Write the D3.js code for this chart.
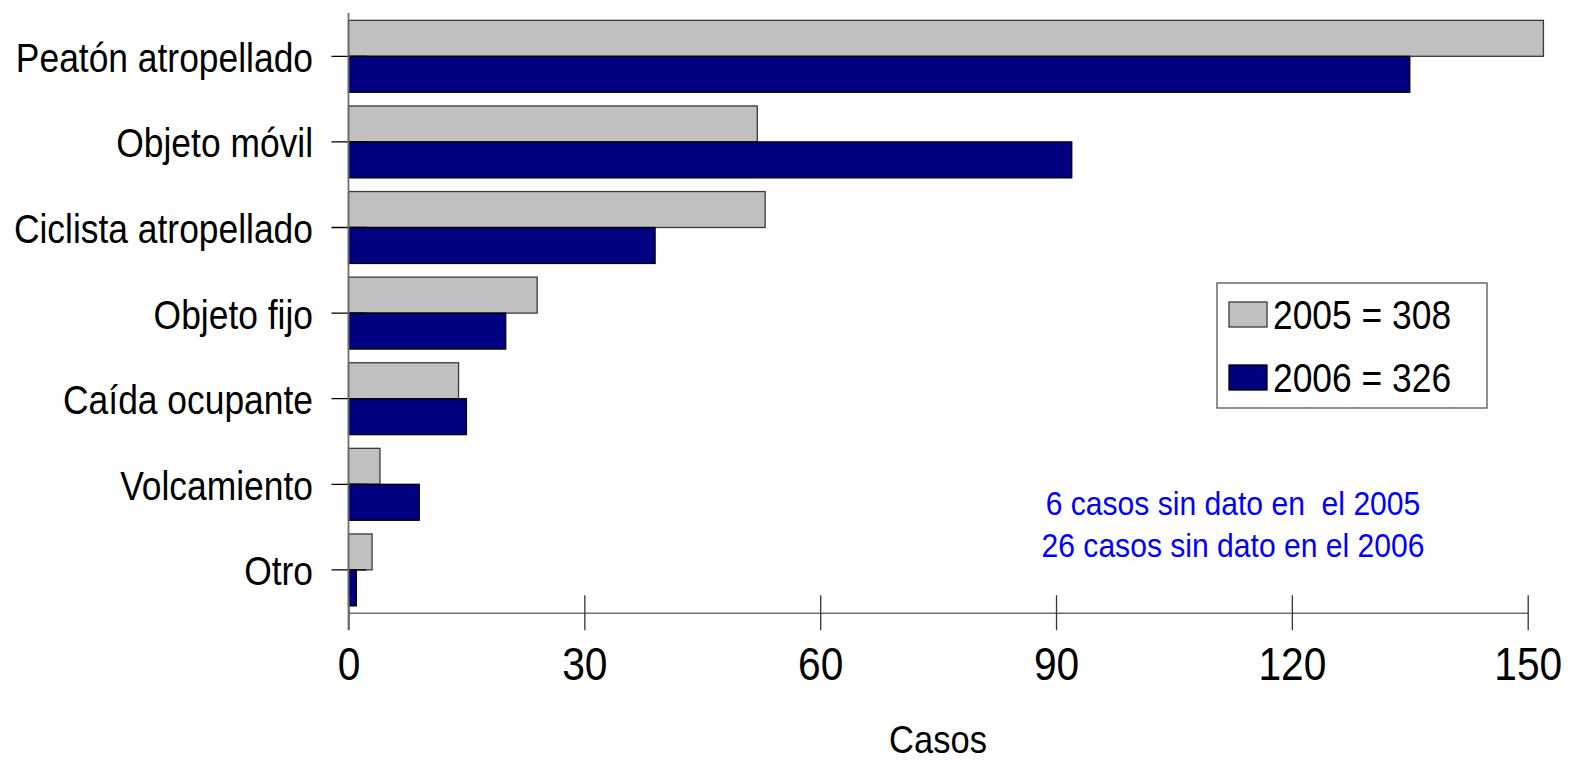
<!DOCTYPE html>
<html><head><meta charset="utf-8">
<script src="https://cdn.jsdelivr.net/npm/d3@7"></script>
<style>body{margin:0;background:#fff}svg{display:block}text{font-family:"Liberation Sans",Arial,sans-serif}</style>
</head><body>
<svg id="c" width="1570" height="760"></svg>
<script>
const categories = ["Peatón atropellado","Objeto móvil","Ciclista atropellado","Objeto fijo","Caída ocupante","Volcamiento","Otro"];
const values2005 = [152,52,53,24,14,4,3];
const values2006 = [135,92,39,20,15,9,1];
const seriesNames = ["2005 = 308","2006 = 326"];
const xTicks = [0,30,60,90,120,150];
const notes = ["6 casos sin dato en  el 2005","26 casos sin dato en el 2006"];
const xTitle = "Casos";

const SX = 0.885;
const svg = d3.select("#c");
const x = d3.scaleLinear().domain([0,150]).range([348.5,1527.7]);
const y = d3.scaleBand().domain(categories).range([13.5,612.7]).paddingInner(0.16).paddingOuter(0.08);
const sub = d3.scaleBand().domain([0,1]).range([0,y.bandwidth()]);
const colors = ["#c0c0c0","#000080"];
const strokes = ["#3a3a3a","#000000"];

const data = [];
categories.forEach((c,i)=>{ data.push({c,s:0,v:values2005[i]}); data.push({c,s:1,v:values2006[i]}); });

svg.append("g").selectAll("rect").data(data).join("rect")
  .attr("x", x(0))
  .attr("y", d=>y(d.c)+sub(d.s))
  .attr("width", d=>x(d.v)-x(0))
  .attr("height", sub.bandwidth())
  .attr("fill", d=>colors[d.s])
  .attr("stroke", d=>strokes[d.s])
  .attr("stroke-width",1.3);

// x axis
const xAxisG = svg.append("g").attr("transform","translate(0,612.7)")
  .call(d3.axisBottom(x).tickValues(xTicks).tickSizeOuter(0).tickFormat(d3.format("d")));
xAxisG.select(".domain").attr("stroke","#6e6e6e").attr("stroke-width",1.5);
xAxisG.selectAll(".tick line").attr("y1",-17.5).attr("y2",17.5).attr("stroke","#333").attr("stroke-width",1.3);
xAxisG.selectAll(".tick text").attr("y",0).attr("dy",0)
  .attr("transform","translate(0,67.5) scale("+SX+",1)")
  .attr("font-size",46).attr("fill","#000").attr("font-family","Liberation Sans, Arial, sans-serif");

// y axis
const yAxisG = svg.append("g").attr("transform","translate(348.5,0)")
  .call(d3.axisLeft(y).tickSize(0).tickSizeOuter(0));
yAxisG.select(".domain").remove();
yAxisG.selectAll(".tick line").remove();
yAxisG.selectAll(".tick").append("line")
  .attr("x1",-17).attr("x2",18).attr("y1",0).attr("y2",0)
  .attr("stroke","#000").attr("stroke-width",1.3);
yAxisG.selectAll(".tick text").attr("x",0).attr("dy",0)
  .attr("transform","translate(-35.5,15.5) scale("+SX+",1)")
  .attr("font-size",40).attr("fill","#000").attr("font-family","Liberation Sans, Arial, sans-serif");
svg.append("line").attr("x1",x(0)).attr("x2",x(0)).attr("y1",13).attr("y2",630)
  .attr("stroke","#6e6e6e").attr("stroke-width",1.8);

// axis title
svg.append("text").attr("transform","translate(938,753) scale("+SX+",1)")
  .attr("text-anchor","middle").attr("font-size",39).text(xTitle);

// legend
const lg = svg.append("g");
lg.append("rect").attr("x",1217).attr("y",283).attr("width",270).attr("height",125)
  .attr("fill","#fff").attr("stroke","#555").attr("stroke-width",1.3);
seriesNames.forEach((n,i)=>{
  const yy = 302 + i*63;
  lg.append("rect").attr("x",1229).attr("y",yy).attr("width",38).attr("height",25)
    .attr("fill",colors[i]).attr("stroke",strokes[i]).attr("stroke-width",1.3);
  lg.append("text").attr("transform","translate(1273,"+(yy+26.5)+") scale("+SX+",1)")
    .attr("font-size",40).text(n);
});

// notes
notes.forEach((t,i)=>{
  svg.append("text").attr("transform","translate(1233,"+(515+i*42)+") scale("+SX+",1)")
    .attr("text-anchor","middle").attr("font-size",34).attr("fill","#0000ff")
    .style("white-space","pre").attr("xml:space","preserve").text(t);
});
</script>
</body></html>
